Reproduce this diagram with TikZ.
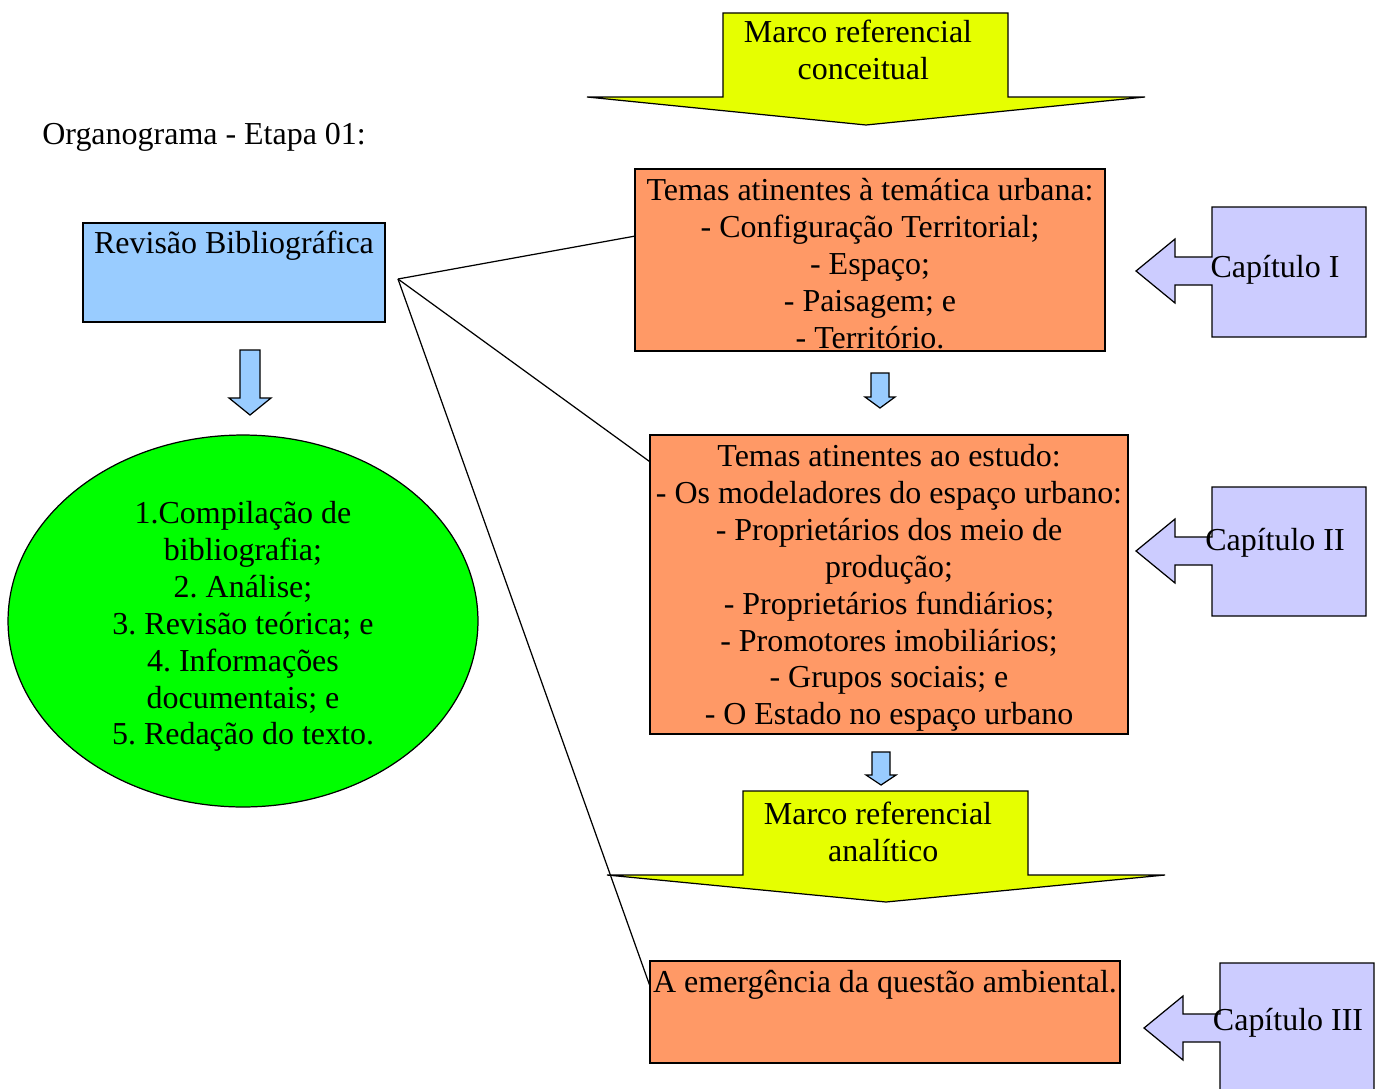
\documentclass[tikz,border=0pt]{standalone}
\usepackage{fontspec}
\setmainfont{Liberation Serif}
\usetikzlibrary{shapes.geometric,calc}
\frenchspacing

\definecolor{revblue}{HTML}{99CCFF}
\definecolor{lista}{HTML}{00FF00}
\definecolor{marco}{HTML}{E6FF00}
\definecolor{tema}{HTML}{FF9966}
\definecolor{capit}{HTML}{CCCCFF}

\begin{document}
\begin{tikzpicture}[x=0.02cm,y=-0.02cm,
    every node/.style={font=\fontsize{18.2}{21}\selectfont,inner sep=0pt},
    txt/.style={align=center,anchor=north},
    box/.style={draw,line width=0.7pt,fill=tema}]
    \useasboundingbox (0,0) rectangle (1381,1088);

    \node[anchor=base west] (titulo) at (42,144) {Organograma - Etapa 01:};

    \node[draw,line width=0.7pt,fill=revblue,minimum width=6.04cm,minimum height=1.98cm] (rev) at (234,272.5) {};
    \node[txt] (revtxt) at (234,231) {Revisão Bibliográfica};

    \foreach \cx/\top/\neck/\tip/\sw/\hw in {250/350/398/415/10/21, 880/373/397/408/9/15, 881/752/775/785/9/15} {
      \draw[line width=0.7pt,fill=revblue] (\cx-\sw,\top) -- (\cx+\sw,\top) -- (\cx+\sw,\neck) -- (\cx+\hw,\neck)
        -- (\cx,\tip) -- (\cx-\hw,\neck) -- (\cx-\sw,\neck) -- cycle;
    }

    \node[draw,ellipse,line width=0.7pt,fill=lista,minimum width=9.4cm,minimum height=7.44cm] (lista) at (243,621) {};
    \node[txt] (listatxt) at (243,501) {1.Compilação de\\bibliografia;\\2. Análise;\\3. Revisão teórica; e\\4. Informações\\documentais; e\\5. Redação do texto.};

    \foreach \l/\r/\t/\w/\wl/\wr/\tx/\ty in {723/1008/13/97/587/1145/866/125, 743/1028/791/875/607/1165/886/902} {
      \draw[line width=0.7pt,fill=marco] (\l,\t) -- (\r,\t) -- (\r,\w) -- (\wr,\w) -- (\tx,\ty) -- (\wl,\w) -- (\l,\w) -- cycle;
    }
    \node[txt] (conceitual) at (858,20) {Marco referencial\\\hspace*{6pt}conceitual};
    \node[txt] (analitico) at (878,802) {Marco referencial\\\hspace*{6pt}analítico};

    \node[box,minimum width=9.4cm,minimum height=3.64cm] (t1) at (870,260) {};
    \node[txt] (t1txt) at (870,178) {Temas atinentes à temática urbana:\\- Configuração Territorial;\\- Espaço;\\- Paisagem; e\\- Território.};

    \node[box,minimum width=9.56cm,minimum height=5.98cm] (t2) at (889,584.5) {};
    \node[txt] (t2txt) at (889,444) {Temas atinentes ao estudo:\\- Os modeladores do espaço urbano:\\- Proprietários dos meio de\\produção;\\- Proprietários fundiários;\\- Promotores imobiliários;\\- Grupos sociais; e\\- O Estado no espaço urbano};

    \node[box,minimum width=9.4cm,minimum height=2.04cm] (t3) at (885,1012) {};
    \node[txt] (t3txt) at (885,970) {A emergência da questão ambiental.};

    \foreach \l/\r/\t/\b/\c/\x in {1212/1366/207/337/271/1136, 1212/1366/487/616/551/1136, 1220/1374/963/1092/1028/1144} {
      \draw[line width=0.7pt,fill=capit] (\l,\t) -- (\r,\t) -- (\r,\b) -- (\l,\b) -- (\l,\c+14) -- (\x+39,\c+14)
        -- (\x+39,\c+32) -- (\x,\c) -- (\x+39,\c-32) -- (\x+39,\c-14) -- (\l,\c-14) -- cycle;
    }
    \node[anchor=base] (cap1) at (1275,277) {Capítulo I};
    \node[anchor=base] (cap2) at (1275,550) {Capítulo II};
    \node[anchor=base] (cap3) at (1288,1030) {Capítulo III};

    \coordinate (hub) at (398,279);
    \draw[line width=0.7pt] (hub) -- ($(t1.north west)!0.37!(t1.south west)$);
    \draw[line width=0.7pt] (hub) -- ($(t2.north west)!0.09!(t2.south west)$);
    \draw[line width=0.7pt] (hub) -- ($(t3.north west)!0.235!(t3.south west)$);
  \end{tikzpicture}
\end{document}
